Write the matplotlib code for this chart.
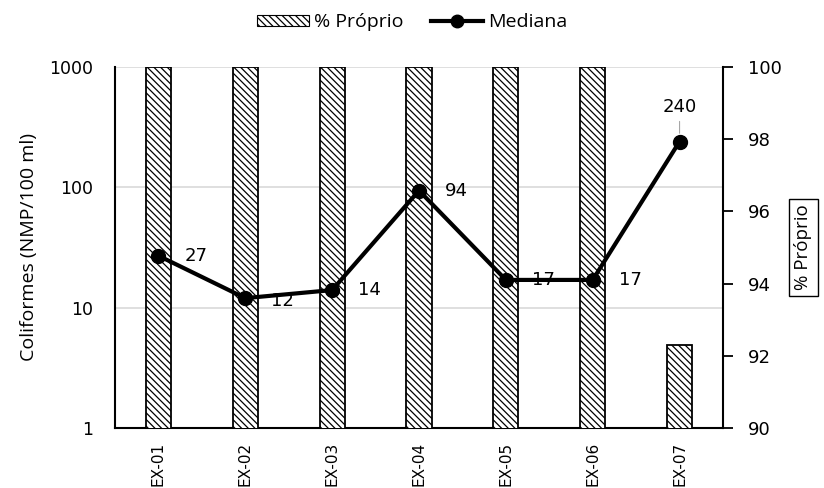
import numpy as np
import matplotlib.pyplot as plt
from matplotlib.lines import Line2D
from matplotlib.patches import Patch

# amostras, % de resultados próprios e mediana dos coliformes
pontos = ["EX-01", "EX-02", "EX-03", "EX-04", "EX-05", "EX-06", "EX-07"]
pct_proprio = [100, 100, 100, 100, 100, 100, 92.3]
mediana = [27, 12, 14, 94, 17, 17, 240]

# deslocamento (pt) de cada rótulo de valor em relação ao ponto
desloc = [(27, 0), (27, -2), (27, 0), (27, 0), (27, 0), (27, 0), (0, 25)]

plt.rcParams['hatch.linewidth'] = 0.9
plt.rcParams['hatch.color'] = '#222222'
hachura = '\\\\\\\\\\'

fig = plt.figure(figsize=(8.24, 4.88), dpi=100)
pos = [0.1396, 0.1230, 0.7378, 0.7397]
x = np.arange(len(pontos))

# eixo esquerdo: só grade e escala logarítmica
ax = fig.add_axes(pos)
ax.set_yscale('log')
ax.set_ylim(1, 1000)
ax.set_xlim(-0.5, len(pontos) - 0.5)
ax.yaxis.grid(True, color='#d9d9d9', linewidth=1.2)
ax.set_axisbelow(True)
ax.set_yticks([1, 10, 100, 1000])
ax.set_yticklabels(['1', '10', '100', '1000'])
ax.minorticks_off()
ax.tick_params(axis='y', length=0, labelsize=12.5, pad=16)
ax.tick_params(axis='x', length=0, labelsize=11, rotation=90, pad=10)
ax.set_xticks(x)
ax.set_xticklabels(pontos)
ax.set_ylabel("Coliformes (NMP/100 ml)", fontsize=14, family='Open Sans', labelpad=8)
for s in ['top', 'right']:
    ax.spines[s].set_visible(False)
ax.spines['left'].set_linewidth(1.5)
ax.spines['bottom'].set_linewidth(1.5)

# eixo direito: barras de % próprio
ax2 = ax.twinx()
ax2.bar(x, pct_proprio, width=0.29, color='white', edgecolor='black',
        linewidth=1.3, hatch=hachura)
ax2.set_ylim(90, 100)
ax2.set_yticks(range(90, 101, 2))
ax2.tick_params(axis='y', direction='out', length=7, width=1.3, labelsize=13, pad=11)
for s in ['top', 'left', 'bottom']:
    ax2.spines[s].set_visible(False)
ax2.spines['right'].set_linewidth(1.5)
ax2.set_ylabel("% Próprio", fontsize=13.5, family='Open Sans', labelpad=9,
               bbox=dict(facecolor='white', edgecolor='black', linewidth=1.0, pad=4))

# eixo por cima para a linha da mediana
ax3 = fig.add_axes(pos, sharex=ax, sharey=ax)
ax3.patch.set_visible(False)
ax3.axis('off')
ax3.plot(x, mediana, color='black', linewidth=3, marker='o', markersize=10)
for xi, v, (dx, dy) in zip(x, mediana, desloc):
    if dy > 20:
        ax3.annotate(str(v), (xi, v), xytext=(dx, dy), textcoords='offset points',
                     ha='center', va='center', fontsize=13,
                     arrowprops=dict(arrowstyle='-', color='#a6a6a6', lw=0.8,
                                     shrinkA=2, shrinkB=6))
    else:
        ax3.annotate(str(v), (xi, v), xytext=(dx, dy), textcoords='offset points',
                     ha='center', va='center', fontsize=13)

handles = [Patch(facecolor='white', edgecolor='black', hatch=hachura, linewidth=0.8),
           Line2D([0], [0], color='black', linewidth=3, marker='o', markersize=9)]
fig.legend(handles, ["% Próprio", "Mediana"], loc='center',
           bbox_to_anchor=(0.5, 0.955), ncol=2, frameon=False,
           prop={'family': 'Open Sans', 'size': 14}, handlelength=2.7,
           handleheight=0.5, columnspacing=1.4, handletextpad=0.25)

fig.savefig("out.png", dpi=100)
